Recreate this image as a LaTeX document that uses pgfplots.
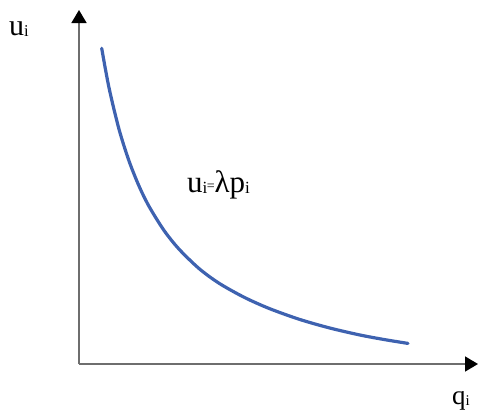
\documentclass[border=0pt]{standalone}
\usepackage{pgfplots}
\pgfplotsset{compat=1.18}
\usetikzlibrary{arrows.meta}
\usepackage{fontspec}
\setmainfont{Liberation Serif}
\definecolor{curveblue}{RGB}{62,98,176}
\definecolor{axisgray}{RGB}{110,110,110}

% utility-price relation, sampled along the curve
\pgfplotstableread{
q     u
22.7  315.7
30    276.3
40    234.8
50    203.1
60    178.0
70    157.7
85    133.6
100   114.9
120   95.5
140   80.8
165   66.8
190   55.6
220   44.8
250   36.2
280   29.2
305   24.5
329   20.6
}\curvedata

\newcommand{\sub}[1]{\raisebox{-0.05em}{\fontsize{0.55em}{0.6em}\selectfont #1}}

\begin{document}
\begin{tikzpicture}
\begin{axis}[
  x=1bp, y=1bp,
  xmin=0, xmax=399, ymin=0, ymax=354,
  axis lines=left,
  axis line style={draw=axisgray, line width=1.6bp,
    -{Triangle[black, length=13bp, width=15bp]}},
  xtick=\empty, ytick=\empty,
  clip=false,
]
\path (axis cs:-79,-48) rectangle (axis cs:404,364);
\addplot[curveblue, line width=3.2bp, smooth, tension=0.5, line cap=round]
  table[x=q, y=u] {\curvedata};
\node[anchor=base west, inner sep=0, font=\fontsize{30bp}{33bp}\selectfont]
  at (axis cs:-70,329) {u\sub{i}};
\node[anchor=base west, inner sep=0, font=\fontsize{31bp}{34bp}\selectfont]
  at (axis cs:108,172) {u\sub{i}\kern-0.02em\raisebox{0.05em}{\fontsize{14bp}{16bp}\selectfont=}λp\sub{i}};
\node[anchor=base west, inner sep=0, font=\fontsize{27bp}{30bp}\selectfont]
  at (axis cs:373,-40) {q\sub{i}};
\end{axis}
\end{tikzpicture}
\end{document}
